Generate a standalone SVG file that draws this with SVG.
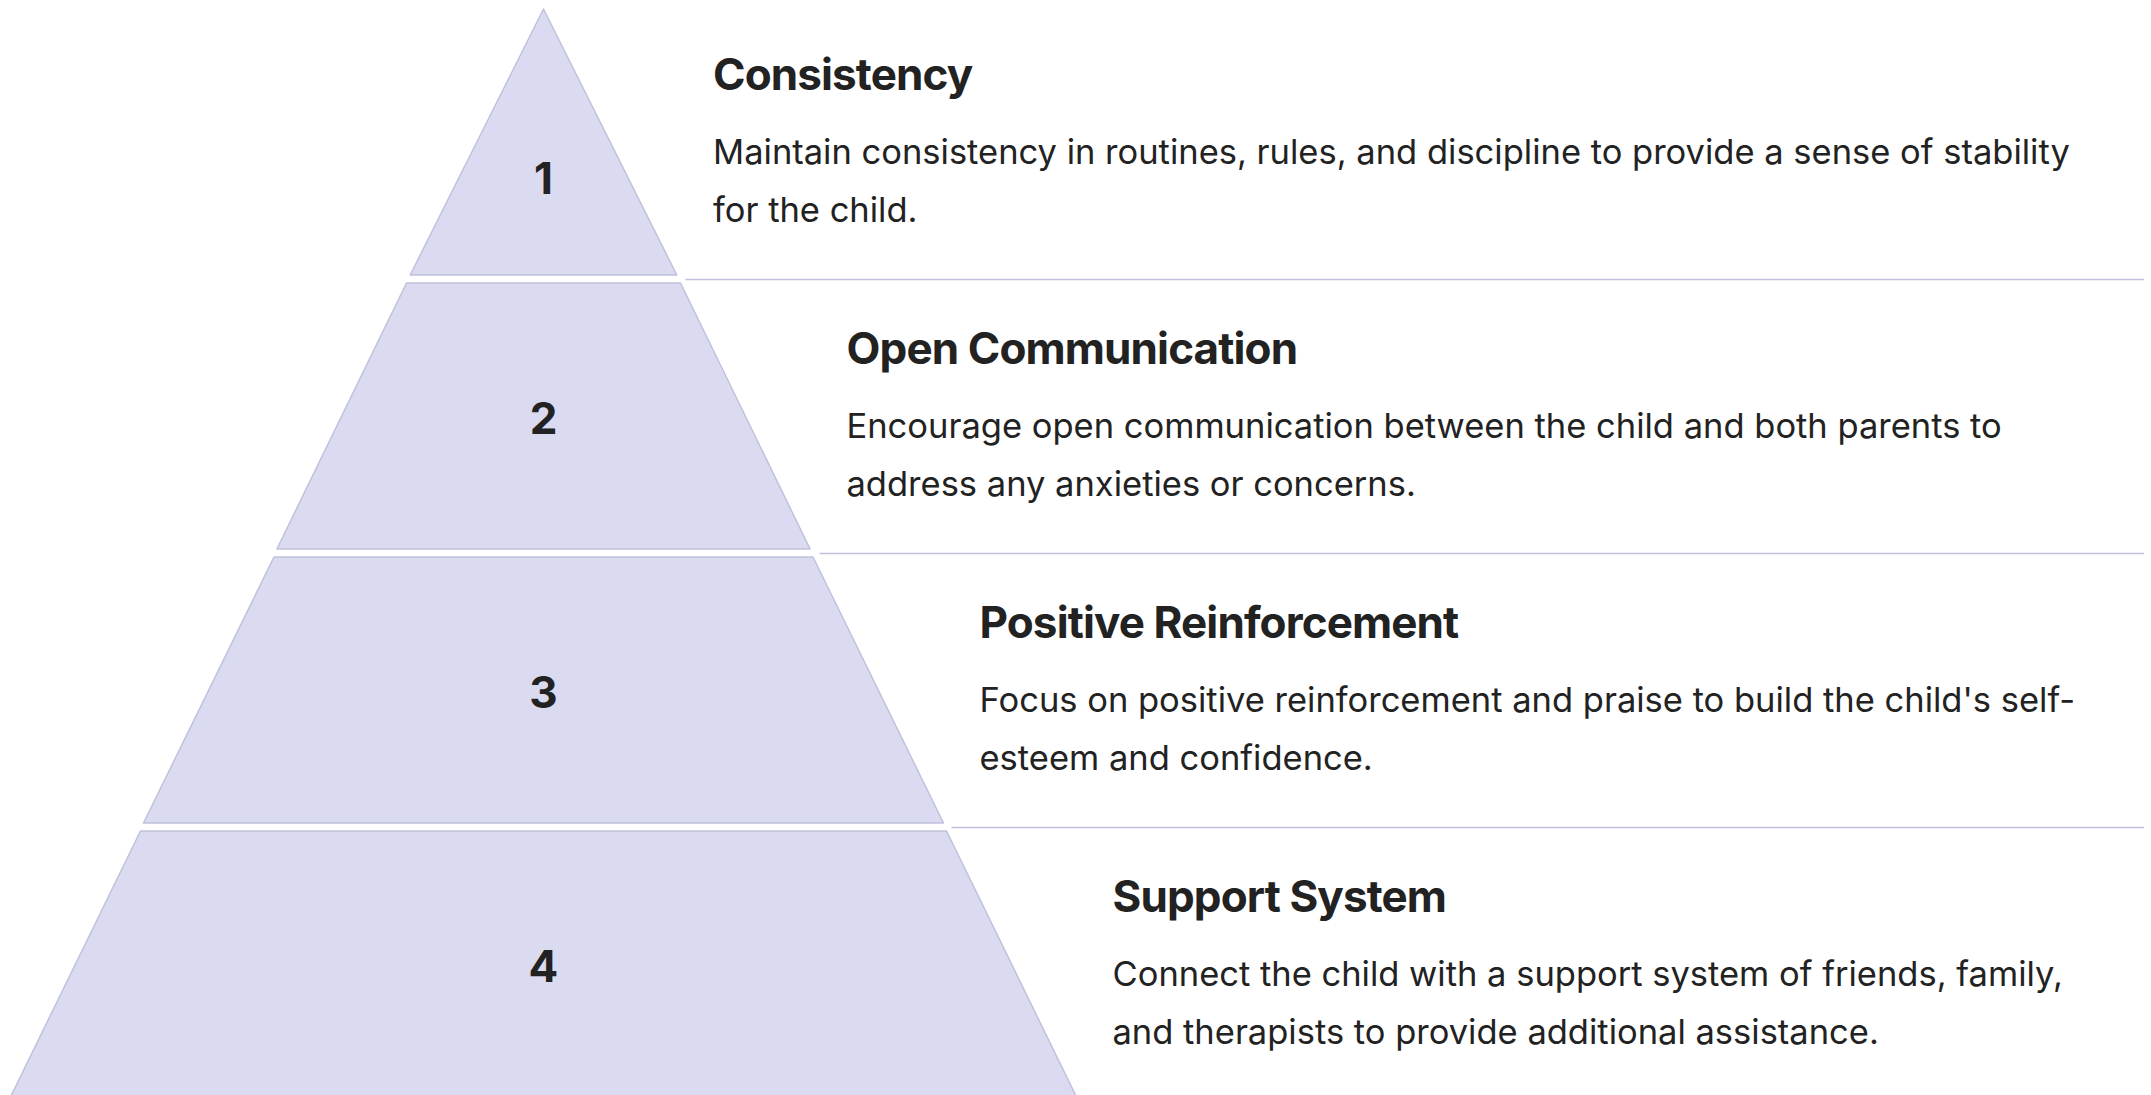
<svg xmlns="http://www.w3.org/2000/svg" width="2151" height="1095" viewBox="0 0 2151 1095">
<style>
.tier{fill:#dadbf0;stroke:#c0c1dc;stroke-width:1.5;stroke-linejoin:round}
.num{font-family:Inter,"Liberation Sans",sans-serif;font-weight:700;font-size:44px;fill:#222;text-anchor:middle}
.title{font-family:Inter,"Liberation Sans",sans-serif;font-weight:700;font-size:44px;fill:#222;letter-spacing:-0.88px}
.desc{font-family:Inter,"Liberation Sans",sans-serif;font-weight:400;font-size:34.5px;fill:#222}
.sep{stroke:#c0c1dc;stroke-width:1.5;fill:none}
</style>
<rect width="2151" height="1095" fill="#ffffff"/>
<g id="connectors">
<line class="sep" x1="685.5" y1="279.5" x2="2144" y2="279.5"/>
<line class="sep" x1="819.5" y1="553.5" x2="2144" y2="553.5"/>
<line class="sep" x1="951.5" y1="827.5" x2="2144" y2="827.5"/>
</g>
<g id="tier1">
<polygon class="tier" points="543.5,9 676.8,275 410.2,275"/>
<text class="num" x="543.5" y="193.5">1</text>
<text class="title" x="713" y="90">Consistency</text>
<text class="desc" x="713" y="163.5">Maintain consistency in routines, rules, and discipline to provide a sense of stability</text>
<text class="desc" x="713" y="222">for the child.</text>
</g>
<g id="tier2">
<polygon class="tier" points="406.5,283 680.5,283 810.1,549 276.9,549"/>
<text class="num" x="543.5" y="433.5">2</text>
<text class="title" x="846.5" y="364">Open Communication</text>
<text class="desc" x="846.5" y="437.5">Encourage open communication between the child and both parents to</text>
<text class="desc" x="846.5" y="496">address any anxieties or concerns.</text>
</g>
<g id="tier3">
<polygon class="tier" points="274,557 813,557 943.5,823 143.5,823"/>
<text class="num" x="543.5" y="707.5">3</text>
<text class="title" x="979.5" y="638">Positive Reinforcement</text>
<text class="desc" x="979.5" y="711.5">Focus on positive reinforcement and praise to build the child's self-</text>
<text class="desc" x="979.5" y="770">esteem and confidence.</text>
</g>
<g id="tier4">
<polygon class="tier" points="140.5,831 946.5,831 1076.5,1097 10.5,1097"/>
<text class="num" x="543.5" y="981.5">4</text>
<text class="title" x="1112.5" y="912">Support System</text>
<text class="desc" x="1112.5" y="985.5">Connect the child with a support system of friends, family,</text>
<text class="desc" x="1112.5" y="1044">and therapists to provide additional assistance.</text>
</g>
</svg>
